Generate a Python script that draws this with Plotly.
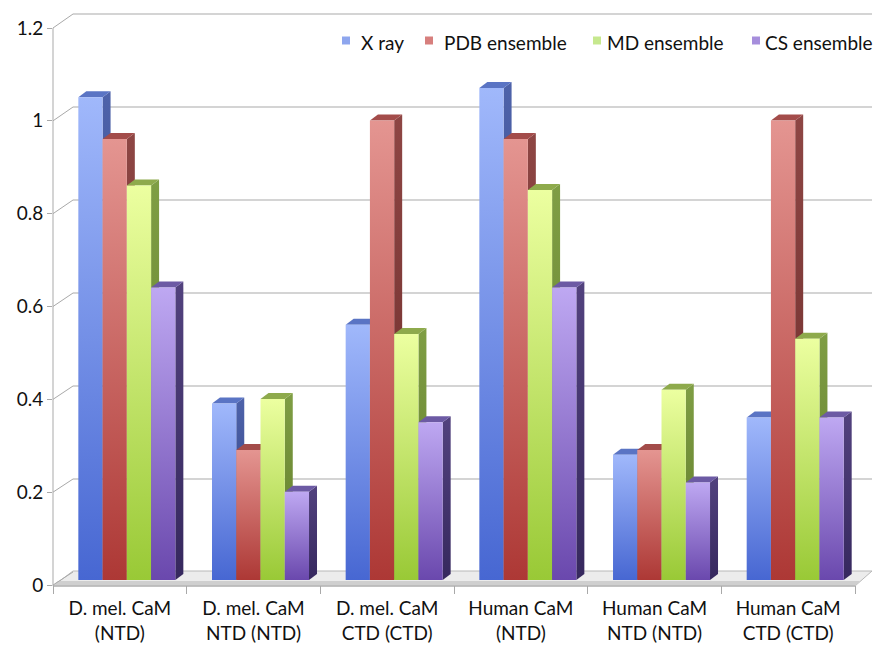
import plotly.graph_objects as go

# ---------------- data ----------------
categories = ["D. mel. CaM<br>(NTD)", "D. mel. CaM<br>NTD (NTD)", "D. mel. CaM<br>CTD (CTD)",
              "Human CaM<br>(NTD)", "Human CaM<br>NTD (NTD)", "Human CaM<br>CTD (CTD)"]
series_names = ["X ray", "PDB ensemble", "MD ensemble", "CS ensemble"]
xray = [1.04, 0.38, 0.55, 1.06, 0.27, 0.35]
pdb_ens = [0.95, 0.28, 0.99, 0.95, 0.28, 0.99]
md_ens = [0.85, 0.39, 0.53, 0.84, 0.41, 0.52]
cs_ens = [0.63, 0.19, 0.34, 0.63, 0.21, 0.35]
y_tickvals = [0, 0.2, 0.4, 0.6, 0.8, 1.0, 1.2]
y_ticktext = ["0", "0.2", "0.4", "0.6", "0.8", "1", "1.2"]

series_values = [xray, pdb_ens, md_ens, cs_ens]

# ---------------- styles ----------------
front_cols = [("#4767d2", "#a0b8fb"), ("#ad3835", "#e49591"), ("#99c936", "#ecffa0"), ("#6a48ad", "#bea8f2")]
side_cols = [("#2c3a7c", "#4e63aa"), ("#6a2a28", "#8e4644"), ("#5f7a28", "#7f9e44"), ("#36285e", "#52427e")]
top_cols = ["#5a74c4", "#a34c4a", "#8eaa4c", "#6c5aa4"]
legend_cols = ["#8ea6ee", "#d77f7d", "#c6e88e", "#a68edc"]
legend_sq_x = [342, 425, 593, 752]      # legend square left edges (px)
legend_txt_x = [359, 442, 605, 763]     # legend text left edges (px)
GRID = "#a9a9a9"
FONT = "Lato"

# ---------------- geometry (pixels) ----------------
W, H = 874, 647
PL, PR, PT, PB = 53, 872, 14, 585          # plot area
GW = 133.67                               # group width in px
KY = 464.17                               # px per unit (front & bar scales)
BAR_X0 = 60                               # bar scale: left boundary of first group
BAR_Y0 = 580                              # bar scale: zero line
BACK_X0, BACK_Y0, BACK_K = 73, 572, 465.0 # back wall
BW = 24.25 / GW                           # bar width (data units)
DX = 8.0 / GW                             # depth offset x (data units)
DY = 6.0 / KY                             # depth offset y (data units)


def px(xp):
    return (xp - PL) / (PR - PL)


def py(yp):
    return (PB - yp) / (PB - PT)


fig = go.Figure()

n_groups = len(categories)

# invisible trace so that the front (labelled) axes are drawn
fig.add_trace(go.Scatter(x=[0], y=[-5], mode="markers", marker=dict(size=1, opacity=0),
                         xaxis="x", yaxis="y", showlegend=False, hoverinfo="skip"))

# bars drawn as 3D prisms (front, side, top) on the bar scale axes
for g in range(n_groups):
    for s, vals in enumerate(series_values):
        v = vals[g]
        x0 = g + (s - 1.5) * BW - BW / 2
        x1 = x0 + BW
        # side face
        fig.add_trace(go.Scatter(
            x=[x1, x1 + DX, x1 + DX, x1, x1], y=[0, DY, v + DY, v, 0],
            mode="lines", line=dict(width=0, color=side_cols[s][0]), fill="toself",
            fillgradient=dict(type="vertical", colorscale=[[0, side_cols[s][0]], [1, side_cols[s][1]]]),
            xaxis="x2", yaxis="y2", showlegend=False, hoverinfo="skip"))
        # top face
        fig.add_trace(go.Scatter(
            x=[x0, x1, x1 + DX, x0 + DX, x0], y=[v, v, v + DY, v + DY, v],
            mode="lines", line=dict(width=0, color=top_cols[s]), fill="toself", fillcolor=top_cols[s],
            xaxis="x2", yaxis="y2", showlegend=False, hoverinfo="skip"))
        # front face
        fig.add_trace(go.Scatter(
            x=[x0, x1, x1, x0, x0], y=[0, 0, v, v, 0],
            mode="lines", line=dict(width=0, color=front_cols[s][0]), fill="toself",
            fillgradient=dict(type="vertical", colorscale=[[0, front_cols[s][0]], [1, front_cols[s][1]]]),
            xaxis="x2", yaxis="y2", showlegend=False, name=series_names[s],
            hovertemplate=f"{series_names[s]}: {v}<extra></extra>"))

# ---------------- frame shapes ----------------
shapes = []
line = dict(color=GRID, width=1)
# floor
shapes.append(dict(type="path", xref="paper", yref="paper", layer="below",
                   path=f"M{px(53)},{py(586)} L{px(73)},{py(571)} L{px(872)},{py(571)} L{px(855)},{py(586)} Z",
                   fillcolor="#ececec", line=dict(color="#b8b8b8", width=1)))
shapes.append(dict(type="path", xref="paper", yref="paper", layer="below",
                   path=f"M{px(58)},{py(581)} L{px(860)},{py(581)} L{px(855)},{py(586)} L{px(53)},{py(586)} Z",
                   fillcolor="#cfcfcf", line=dict(width=0)))
for v in y_tickvals:
    yf = PB - v * KY
    yb = BACK_Y0 - v * BACK_K
    if v > 0:
        shapes.append(dict(type="line", xref="paper", yref="paper", layer="below",
                           x0=px(BACK_X0), x1=px(872), y0=py(yb), y1=py(yb), line=line))
    shapes.append(dict(type="line", xref="paper", yref="paper", layer="below",
                       x0=px(PL), x1=px(BACK_X0), y0=py(yf), y1=py(yb), line=line))
# front left axis line
shapes.append(dict(type="line", xref="paper", yref="paper", layer="below",
                   x0=px(PL), x1=px(PL), y0=py(PB - 1.2 * KY), y1=py(PB + 1), line=line))
# front bottom axis line
shapes.append(dict(type="line", xref="paper", yref="paper", layer="below",
                   x0=px(PL), x1=px(PL + 6 * GW), y0=py(PB + 1), y1=py(PB + 1), line=line))

# ---------------- legend (manual, like the original) ----------------
annotations = []
for s, name in enumerate(series_names):
    shapes.append(dict(type="rect", xref="paper", yref="paper",
                       x0=px(legend_sq_x[s]), x1=px(legend_sq_x[s] + 8), y0=py(44.5), y1=py(36.5),
                       fillcolor=legend_cols[s], line=dict(width=0)))
    annotations.append(dict(xref="paper", yref="paper", x=px(legend_txt_x[s]), y=py(43),
                            xanchor="left", yanchor="middle", showarrow=False, text=name,
                            font=dict(family=FONT, size=19, color="#111111")))

x_front_range = [-0.5, -0.5 + (PR - PL) / GW]
x_bar_range = [-0.5 - (BAR_X0 - PL) / GW, -0.5 + (PR - BAR_X0) / GW]
y_front_range = [0, (PB - PT) / KY]
y_bar_range = [-(PB - BAR_Y0) / KY, (BAR_Y0 - PT) / KY]

tickfont = dict(family=FONT, size=19, color="#111111")

fig.update_layout(
    width=W, height=H,
    margin=dict(l=PL, r=W - PR, t=PT, b=H - PB, pad=0),
    paper_bgcolor="white", plot_bgcolor="rgba(0,0,0,0)",
    shapes=shapes, annotations=annotations,
    showlegend=False,
    xaxis=dict(range=x_front_range, showgrid=False, zeroline=False, showline=False,
               tickmode="array", tickvals=list(range(n_groups)), ticktext=categories,
               ticks="", tickfont=tickfont, ticklabelstandoff=10,
               minor=dict(tickmode="array", tickvals=[i - 0.5 for i in range(n_groups + 1)],
                          ticks="outside", ticklen=8, tickcolor=GRID, tickwidth=1, showgrid=False),
               fixedrange=True),
    yaxis=dict(range=y_front_range, showgrid=False, zeroline=False, showline=False,
               tickmode="array", tickvals=y_tickvals, ticktext=y_ticktext,
               ticks="outside", ticklen=5, tickcolor=GRID, tickfont=tickfont, fixedrange=True),
    xaxis2=dict(range=x_bar_range, overlaying="x", visible=False, fixedrange=True),
    yaxis2=dict(range=y_bar_range, overlaying="y", visible=False, fixedrange=True),
)

fig.write_html("out.html")
